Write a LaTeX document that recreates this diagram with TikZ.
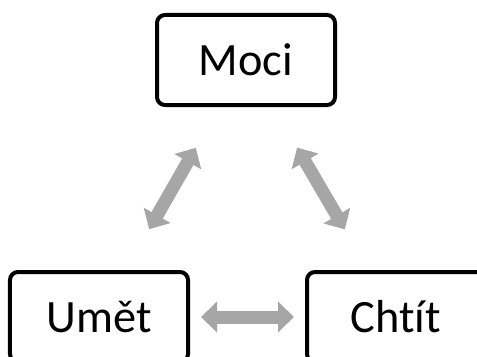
\documentclass[tikz,border=0pt]{standalone}
\usepackage{fontspec}
\setmainfont[Ligatures=NoCommon]{Carlito}
\usetikzlibrary{arrows.meta}
\definecolor{arrowgray}{HTML}{A6A6A6}

\begin{document}
\begin{tikzpicture}[x=1bp, y=1bp,
    box/.style={draw, line width=4bp, rounded corners=8bp, minimum width=178bp, minimum height=90bp,
        text height=30bp, text depth=0pt, font=\fontsize{46.5}{56}\selectfont},
    link/.style={draw=arrowgray, line width=13bp,
        {Triangle[width=30bp,length=16bp]}-{Triangle[width=30bp,length=16bp]}}]
    \clip (0,0) rectangle (477,356);
    \node[box] (moci) at (246,296) {Moci};
    \node[box] (umet) at (99,39) {Umět};
    \node[box] (chtit) at (396,39) {Chtít};
    \draw[link, shorten <=47bp, shorten >=47bp] (umet) -- (moci);
    \draw[link, shorten <=47bp, shorten >=47bp] (moci) -- (chtit);
    \draw[link, shorten <=11bp, shorten >=11bp] (umet) -- (chtit);
\end{tikzpicture}
\end{document}
